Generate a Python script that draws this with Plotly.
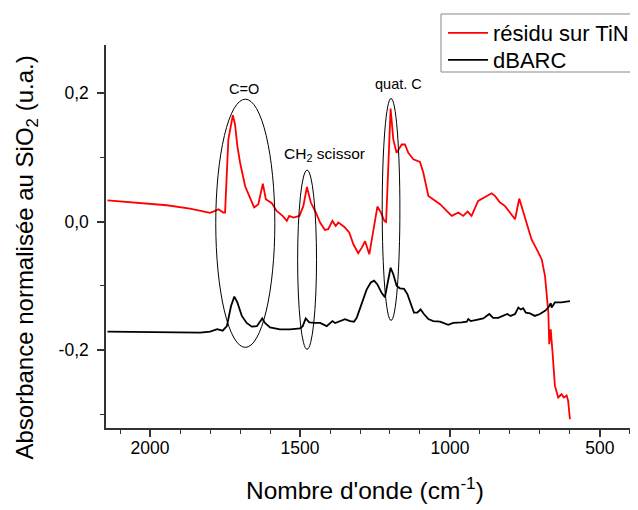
import plotly.graph_objects as go

# ---- data ----
residu_x = [2142, 2011, 1944, 1867, 1833, 1800, 1783, 1772, 1756, 1750, 1739, 1724, 1717, 1709,
            1700, 1683, 1667, 1653, 1639, 1624, 1614, 1594, 1578, 1558, 1544, 1536, 1522, 1502,
            1489, 1477, 1464, 1447, 1433, 1417, 1406, 1392, 1381, 1372, 1352, 1336, 1322, 1306,
            1294, 1283, 1269, 1256, 1242, 1230, 1219, 1213, 1206, 1198, 1189, 1178, 1161, 1150,
            1139, 1122, 1100, 1089, 1072, 1056, 1033, 1011, 994, 972, 956, 941, 928, 906, 878,
            861, 850, 833, 817, 800, 783, 769, 761, 744, 728, 711, 694, 683, 678, 672, 669, 664,
            658, 650, 639, 628, 620, 611, 606, 600]
residu_y = [0.033, 0.0285, 0.0254, 0.0202, 0.0166, 0.0135, 0.0166, 0.0192, 0.014, 0.014, 0.128,
            0.1657, 0.152, 0.118, 0.092, 0.055, 0.0374, 0.022, 0.027, 0.059, 0.0347, 0.0285,
            0.0166, 0.0088, 0.001, 0.0088, 0.0062, 0.0088, 0.024, 0.054, 0.0296, 0.014, -0.0016,
            -0.0131, -0.012, 0.001, -0.0068, -0.0016, -0.0084, -0.017, -0.0354, -0.0494, -0.0406,
            -0.0307, -0.051, -0.012, 0.0233, 0.014, 0.001, -0.0006, 0.0764, 0.176, 0.128, 0.107,
            0.12, 0.12, 0.107, 0.0971, 0.0929, 0.0764, 0.04, 0.0348, 0.027, 0.0166, 0.0088, 0.014,
            0.0088, 0.0156, 0.0088, 0.0322, 0.04, 0.0441, 0.04, 0.0296, 0.0244, 0.014, 0.0036,
            0.0358, 0.024, -0.0016, -0.028, -0.043, -0.059, -0.085, -0.111, -0.142, -0.191,
            -0.168, -0.204, -0.256, -0.274, -0.269, -0.274, -0.271, -0.279, -0.308]

dbarc_x = [2142, 2000, 1833, 1800, 1776, 1758, 1744, 1730, 1719, 1709, 1694, 1678, 1661, 1644,
           1633, 1626, 1617, 1600, 1567, 1533, 1500, 1491, 1481, 1469, 1450, 1433, 1411, 1400,
           1392, 1383, 1367, 1350, 1333, 1320, 1311, 1294, 1278, 1264, 1253, 1242, 1228, 1217,
           1209, 1198, 1189, 1178, 1167, 1153, 1142, 1133, 1120, 1109, 1098, 1087, 1072, 1056,
           1033, 1006, 989, 961, 944, 939, 931, 911, 889, 869, 856, 839, 822, 809, 798, 783,
           772, 764, 756, 747, 733, 717, 700, 683, 672, 664, 661, 650, 628, 600]
dbarc_y = [-0.1714, -0.1719, -0.173, -0.1714, -0.1677, -0.170, -0.163, -0.1315, -0.117, -0.126,
           -0.147, -0.158, -0.1637, -0.163, -0.155, -0.151, -0.158, -0.165, -0.168, -0.168,
           -0.1663, -0.163, -0.151, -0.157, -0.158, -0.158, -0.163, -0.158, -0.155, -0.158,
           -0.155, -0.152, -0.155, -0.156, -0.150, -0.126, -0.106, -0.095, -0.092, -0.098,
           -0.111, -0.118, -0.100, -0.072, -0.082, -0.100, -0.104, -0.105, -0.113, -0.126,
           -0.142, -0.142, -0.137, -0.144, -0.152, -0.155, -0.156, -0.161, -0.158, -0.157,
           -0.156, -0.152, -0.155, -0.153, -0.151, -0.144, -0.150, -0.150, -0.147, -0.144,
           -0.147, -0.144, -0.134, -0.137, -0.135, -0.142, -0.143, -0.147, -0.144, -0.139,
           -0.134, -0.127, -0.134, -0.126, -0.126, -0.124]

series_names = ["résidu sur TiN", "dBARC"]

x_tickvals = [2000, 1500, 1000, 500]
x_ticktext = ["2000", "1500", "1000", "500"]
y_tickvals = [-0.2, 0.0, 0.2]
y_ticktext = ["-0,2", "0,0", "0,2"]

x_title = "Nombre d'onde (cm<sup>-1</sup>)"
y_title = "Absorbance normalisée au SiO<sub>2</sub> (u.a.)"

# annotation regions (ellipses) in data units: x0, x1, y0, y1
ellipse_x0 = [1781, 1508, 1226]
ellipse_x1 = [1584, 1445, 1167]
ellipse_y0 = [-0.196, -0.199, -0.154]
ellipse_y1 = [0.1906, 0.080, 0.1917]
label_text = ["C=O", "CH<sub>2</sub> scissor", "quat. C"]
label_size = [14.5, 15.5, 14.5]
label_x = [1687, 1420, 1172]
label_y = [0.207, 0.105, 0.214]

FONT = "Arial, Liberation Sans, sans-serif"

fig = go.Figure()
fig.add_trace(go.Scatter(x=residu_x, y=residu_y, mode="lines", name=series_names[0],
                         line=dict(color="#ff0000", width=1.8), legend="legend"))
fig.add_trace(go.Scatter(x=dbarc_x, y=dbarc_y, mode="lines", name=series_names[1],
                         line=dict(color="#000000", width=1.8), legend="legend2"))

for x0, x1, y0, y1 in zip(ellipse_x0, ellipse_x1, ellipse_y0, ellipse_y1):
    fig.add_shape(type="circle", xref="x", yref="y", x0=x0, x1=x1, y0=y0, y1=y1,
                  line=dict(color="#000000", width=1))

for t, s, x, y in zip(label_text, label_size, label_x, label_y):
    fig.add_annotation(x=x, y=y, xref="x", yref="y", text=t, showarrow=False,
                       font=dict(family=FONT, size=s, color="#000000"))

# legend frame (open to the right, as in the reference)
fig.add_shape(type="rect", xref="paper", yref="paper", x0=0.6297, x1=1.02, y0=0.9295, y1=1.081,
              line=dict(color="#888888", width=1), fillcolor="white", layer="below")

# axis titles as annotations for exact placement
fig.add_annotation(xref="paper", yref="paper", x=0.4868, y=-0.157, text=x_title,
                   showarrow=False, xanchor="center", yanchor="middle",
                   font=dict(family=FONT, size=24.5, color="#000000"))
fig.add_annotation(xref="paper", yref="paper", x=-0.1485, y=0.445, text=y_title,
                   showarrow=False, xanchor="center", yanchor="middle", textangle=-90,
                   font=dict(family=FONT, size=24, color="#000000"))

leg_common = dict(xanchor="left", yanchor="middle", bgcolor="rgba(0,0,0,0)", borderwidth=0,
                  font=dict(family=FONT, size=22, color="#000000"), itemwidth=40)

# the page body has an 8 px margin, so the figure is drawn 8 px in from the top-left
fig.update_layout(
    width=630, height=502,
    margin=dict(l=98, r=0, t=37, b=82),
    paper_bgcolor="white", plot_bgcolor="white",
    font=dict(family=FONT, color="#000000"),
    showlegend=True,
    legend=dict(x=0.6335, y=1.0313, **leg_common),
    legend2=dict(x=0.6335, y=0.9608, **leg_common),
)

fig.update_xaxes(
    range=[2147, 373], showgrid=False, zeroline=False,
    showline=True, linecolor="#333333", linewidth=1.5,
    tickmode="array", tickvals=x_tickvals, ticktext=x_ticktext,
    ticks="outside", ticklen=7, tickwidth=1.5, tickcolor="#333333",
    tickfont=dict(family=FONT, size=17.5, color="#000000"),
    ticklabelstandoff=-4,
    minor=dict(dtick=100, tick0=0, ticks="outside", ticklen=4, tickwidth=1.2,
               tickcolor="#333333", showgrid=False),
)
fig.update_yaxes(
    range=[-0.3216, 0.275], showgrid=False, zeroline=False,
    showline=True, linecolor="#333333", linewidth=1.5,
    tickmode="array", tickvals=y_tickvals, ticktext=y_ticktext,
    ticks="outside", ticklen=7, tickwidth=1.5, tickcolor="#333333",
    tickfont=dict(family=FONT, size=17.5, color="#000000"),
    ticklabelstandoff=5,
    minor=dict(dtick=0.1, tick0=0, ticks="outside", ticklen=4, tickwidth=1.2,
               tickcolor="#333333", showgrid=False),
)

fig.write_html("out.html")
